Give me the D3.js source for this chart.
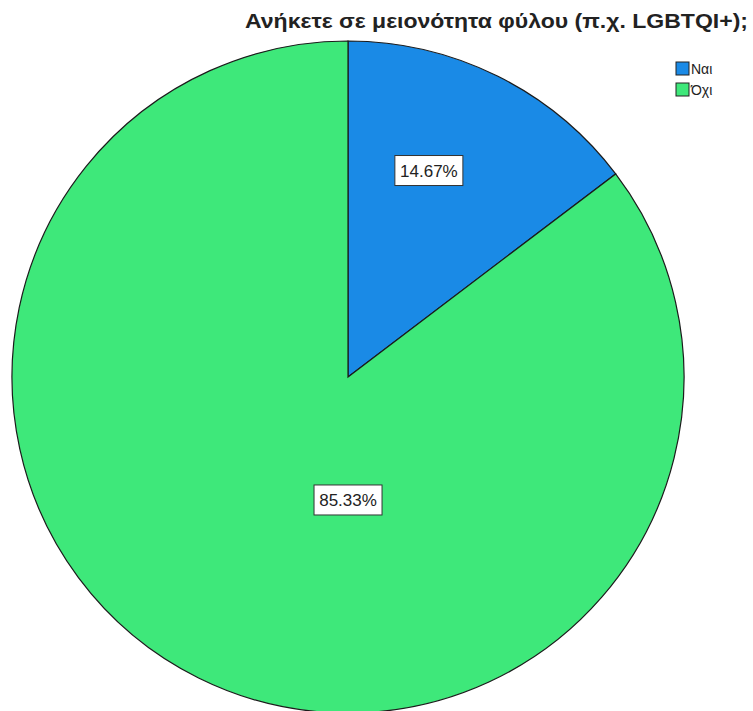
<!DOCTYPE html>
<html>
<head>
<meta charset="utf-8">
<script src="https://cdn.jsdelivr.net/npm/d3@7"></script>
<style>
  body { margin: 0; background: #fff; }
  text { font-family: "Liberation Sans", Arial, sans-serif; }
</style>
</head>
<body>
<script>
// chart data
const categories = ["Ναι", "Όχι"];
const values = [14.67, 85.33];
const colors = ["#1a8ae6", "#3ee87a"];
const title = "Ανήκετε σε μειονότητα φύλου (π.χ. LGBTQI+);";

const width = 753,
  height = 711,
  cx = 348, // pie centre
  cy = 377,
  radius = 336;

const svg = d3.select("body")
  .append("svg")
  .attr("width", width)
  .attr("height", height);

// title (stretched a bit, the original font runs wider than Arial)
svg.append("text")
  .attr("x", 245)
  .attr("y", 28)
  .attr("font-size", 20)
  .attr("font-weight", "bold")
  .attr("fill", "#222")
  .attr("textLength", 503)
  .attr("lengthAdjust", "spacingAndGlyphs")
  .text(title);

const pie = d3.pie().sort(null).value(d => d);
const arcs = pie(values);
const arc = d3.arc().innerRadius(0).outerRadius(radius);

const g = svg.append("g").attr("transform", `translate(${cx},${cy})`);

g.selectAll("path")
  .data(arcs)
  .enter()
  .append("path")
  .attr("d", arc)
  .attr("fill", (d, i) => colors[i])
  .attr("stroke", "#1b1b1b")
  .attr("stroke-width", 1.2);

// SPSS style label spots: angle offset from slice start (fraction of slice) and radius fraction
const labelSpot = [[0.405, 0.66], [0.414, 0.366]];
const labels = g.selectAll("g.lab")
  .data(arcs)
  .enter()
  .append("g")
  .attr("class", "lab")
  .attr("transform", (d, i) => {
    const a = d.startAngle + (d.endAngle - d.startAngle) * labelSpot[i][0];
    const r = radius * labelSpot[i][1];
    return `translate(${r * Math.sin(a)},${-r * Math.cos(a)})`;
  });

labels.append("rect")
  .attr("x", -34)
  .attr("y", -15)
  .attr("width", 68)
  .attr("height", 30)
  .attr("fill", "#fff")
  .attr("stroke", "#333")
  .attr("stroke-width", 1);

labels.append("text")
  .attr("text-anchor", "middle")
  .attr("dy", "0.36em")
  .attr("font-size", 17)
  .attr("fill", "#222")
  .text(d => d.data.toFixed(2) + "%");

// legend
const legend = svg.selectAll("g.leg")
  .data(categories)
  .enter()
  .append("g")
  .attr("class", "leg")
  .attr("transform", (d, i) => `translate(676,${62 + i * 21})`);

legend.append("rect")
  .attr("width", 13)
  .attr("height", 13)
  .attr("fill", (d, i) => colors[i])
  .attr("stroke", "#222")
  .attr("stroke-width", 1);

legend.append("text")
  .attr("x", 15)
  .attr("y", 12)
  .attr("font-size", 14)
  .attr("fill", "#222")
  .text(d => d);
</script>
</body>
</html>
